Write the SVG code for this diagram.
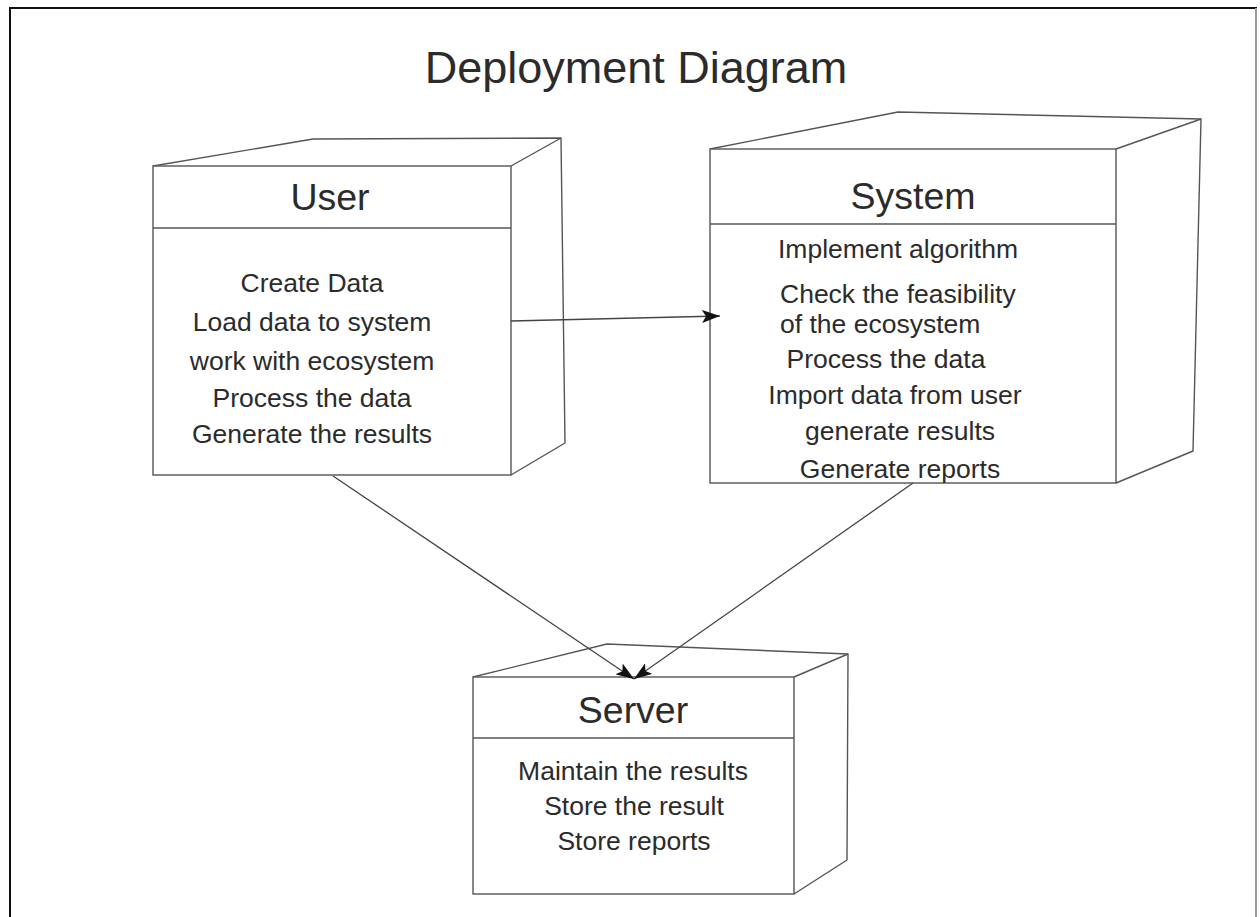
<svg xmlns="http://www.w3.org/2000/svg" width="1260" height="917" viewBox="0 0 1260 917">
  <style>
    .edge { fill: none; stroke: #555; stroke-width: 1.4; stroke-linejoin: round; }
    .face { fill: #fff; stroke: #555; stroke-width: 1.4; }
    .name { font-family: "Liberation Sans", Arial, sans-serif; font-size: 37.5px; fill: #2b2b2b; text-anchor: middle; }
    .item { font-family: "Liberation Sans", Arial, sans-serif; font-size: 26.5px; fill: #2b2b2b; text-anchor: middle; }
    .left { text-anchor: start; }
    .link { fill: none; stroke: #444; stroke-width: 1.3; }
  </style>
  <defs>
    <marker id="arrow" markerUnits="userSpaceOnUse" viewBox="0 0 18 13" refX="18" refY="6.5" markerWidth="18" markerHeight="13" orient="auto">
      <path d="M0,0 L18,6.5 L0,13 L4,6.5 z" fill="#111"/>
    </marker>
  </defs>

  <rect width="1260" height="917" fill="#fff"/>

  <!-- page frame -->
  <g id="frame">
    <line x1="9" y1="8" x2="1257" y2="8" stroke="#111" stroke-width="2"/>
    <line x1="10" y1="8" x2="10" y2="917" stroke="#111" stroke-width="2"/>
    <line x1="1256" y1="8" x2="1256" y2="917" stroke="#999" stroke-width="2"/>
  </g>

  <text id="title" x="636" y="83" font-family="Liberation Sans, Arial, sans-serif" font-size="45" fill="#2b2b2b" text-anchor="middle">Deployment Diagram</text>

  <!-- User node -->
  <g id="node-user">
    <polyline class="edge" points="153,166 313,139 561,138 565,443 511,475"/>
    <line class="edge" x1="511" y1="166" x2="561" y2="138"/>
    <rect class="face" x="153" y="166" width="358" height="309"/>
    <line class="edge" x1="153" y1="228" x2="511" y2="228"/>
    <text class="name" x="330" y="210">User</text>
    <text class="item" x="312" y="292">Create Data</text>
    <text class="item" x="312" y="331">Load data to system</text>
    <text class="item" x="312" y="370">work with ecosystem</text>
    <text class="item" x="312" y="407">Process the data</text>
    <text class="item" x="312" y="443">Generate the results</text>
  </g>

  <!-- System node -->
  <g id="node-system">
    <polyline class="edge" points="710,149 898,112 1201,119 1193,451 1116,483"/>
    <line class="edge" x1="1116" y1="149" x2="1201" y2="119"/>
    <rect class="face" x="710" y="149" width="406" height="334"/>
    <line class="edge" x1="710" y1="224" x2="1116" y2="224"/>
    <text class="name" x="913" y="209">System</text>
    <text class="item" x="898" y="258">Implement algorithm</text>
    <text class="item left" x="780" y="303">Check the feasibility</text>
    <text class="item left" x="780" y="333">of the ecosystem</text>
    <text class="item" x="886" y="368">Process the data</text>
    <text class="item" x="895" y="404">Import data from user</text>
    <text class="item" x="900" y="440">generate results</text>
    <text class="item" x="900" y="478">Generate reports</text>
  </g>

  <!-- Server node -->
  <g id="node-server">
    <polyline class="edge" points="473,677 607,644 848,654 847,860 794,894"/>
    <line class="edge" x1="794" y1="677" x2="848" y2="654"/>
    <rect class="face" x="473" y="677" width="321" height="217"/>
    <line class="edge" x1="473" y1="738" x2="794" y2="738"/>
    <text class="name" x="633" y="723">Server</text>
    <text class="item" x="633" y="780">Maintain the results</text>
    <text class="item" x="634" y="815">Store the result</text>
    <text class="item" x="634" y="850">Store reports</text>
  </g>

  <!-- connectors -->
  <g id="connectors">
    <line class="link" x1="511" y1="321" x2="720" y2="316" marker-end="url(#arrow)"/>
    <line class="link" x1="333" y1="476" x2="634" y2="679" marker-end="url(#arrow)"/>
    <line class="link" x1="913" y1="483" x2="634" y2="679" marker-end="url(#arrow)"/>
  </g>
</svg>
